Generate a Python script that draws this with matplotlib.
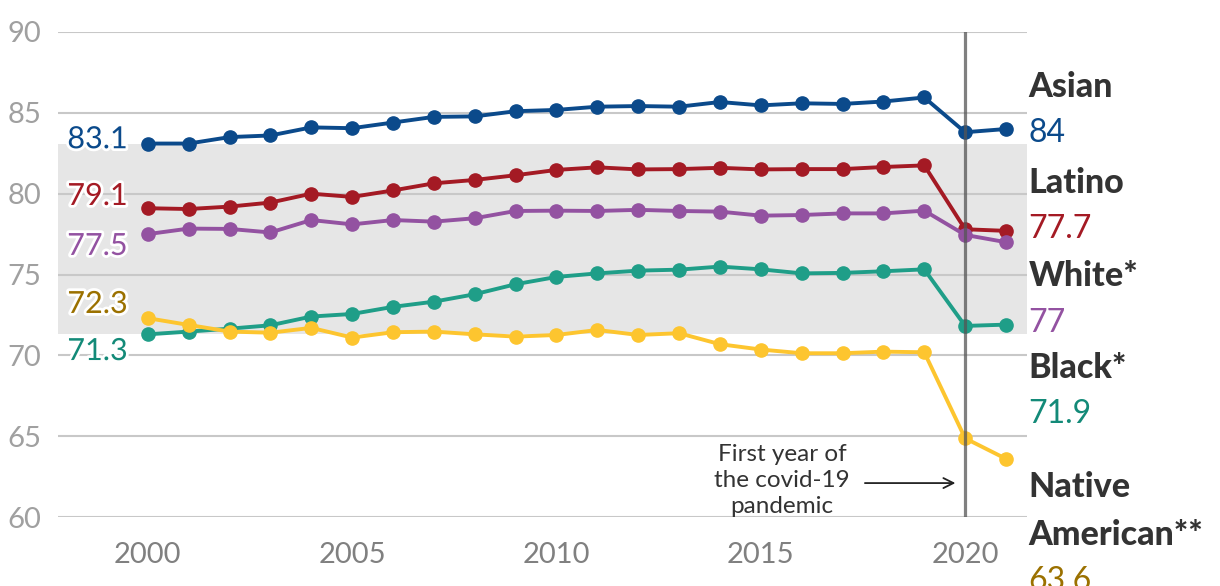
#! /usr/bin/env python3
import matplotlib
matplotlib.use("Agg")
import matplotlib.pyplot as plt
import matplotlib.patheffects as pe

years = list(range(2000, 2022))

asian = [83.1, 83.1, 83.5, 83.6, 84.1, 84.05, 84.4, 84.75, 84.78, 85.1, 85.18, 85.38,
         85.42, 85.38, 85.67, 85.46, 85.59, 85.55, 85.7, 85.95, 83.8, 84.0]
latino = [79.1, 79.05, 79.2, 79.45, 80.0, 79.8, 80.2, 80.64, 80.85, 81.14, 81.47, 81.63,
          81.5, 81.52, 81.6, 81.5, 81.52, 81.52, 81.65, 81.75, 77.8, 77.7]
white = [77.5, 77.84, 77.82, 77.6, 78.37, 78.1, 78.37, 78.27, 78.48, 78.93, 78.95, 78.93,
         79.0, 78.93, 78.89, 78.64, 78.68, 78.78, 78.78, 78.95, 77.45, 77.0]
black = [71.3, 71.47, 71.65, 71.86, 72.4, 72.56, 73.0, 73.32, 73.78, 74.4, 74.85, 75.07,
         75.24, 75.3, 75.49, 75.32, 75.07, 75.1, 75.2, 75.32, 71.82, 71.9]
native = [72.3, 71.88, 71.47, 71.4, 71.7, 71.1, 71.43, 71.47, 71.3, 71.16, 71.26, 71.57,
          71.26, 71.37, 70.69, 70.36, 70.13, 70.13, 70.23, 70.19, 64.87, 63.6]

group_names = ["Asian", "Latino", "White*", "Black*", "Native\nAmerican**"]
group_series = [asian, latino, white, black, native]
line_colors = ["#0b4a8b", "#a41a24", "#9352a1", "#1f9e88", "#fdc52f"]
text_colors = ["#0b4a8b", "#a41a24", "#9352a1", "#138a78", "#9b7100"]

left_label_y = [82.81, 79.3, 76.21, 69.71, 72.62]
right_name_y = [86.0, 80.06, 74.29, 68.58, 58.27]
right_value_y = [83.21, 77.24, 71.46, 65.8, 55.5]

pandemic_year = 2020
FONT = "Lato"


def draw_lines(ax):
    # grey band between the lowest and highest 2000 value
    start_vals = [s[0] for s in group_series]
    ax.axhspan(min(start_vals), max(start_vals), color="#e6e6e6", zorder=0, lw=0)

    for vals, c in zip(group_series, line_colors):
        ax.plot(years, vals, color=c, lw=2.8, marker="o", markersize=9.5,
                zorder=3, clip_on=False)

    ax.axvline(pandemic_year, color="#555555", alpha=0.75, lw=2.3, zorder=4)


def draw_labels(ax):
    stroke = [pe.withStroke(linewidth=4, foreground="white")]
    for vals, c, y in zip(group_series, text_colors, left_label_y):
        ax.text(years[0] - 0.49, y, f"{vals[0]:g}", color=c, fontsize=22, family=FONT,
                ha="right", va="baseline", path_effects=stroke, zorder=5)

    x_right = years[-1] + 0.55
    for name, vals, c, yn, yv in zip(group_names, group_series, text_colors,
                                      right_name_y, right_value_y):
        ax.text(x_right, yn, name, color="#333333", fontsize=24.5, family=FONT,
                fontweight="black", ha="left", va="baseline", clip_on=False,
                linespacing=1.6)
        ax.text(x_right, yv, f"{vals[-1]:g}", color=c, fontsize=23, family=FONT,
                ha="left", va="baseline", clip_on=False)

    ax.text(2015.52, 62.25, "First year of\nthe covid-19\npandemic", fontsize=17.5,
            family=FONT, color="#333333", ha="center", va="center", linespacing=1.3,
            zorder=5)
    ax.annotate("", xy=(2019.83, 62.1), xytext=(2017.48, 62.1),
                arrowprops=dict(arrowstyle="->", color="#222222", lw=1.3,
                                mutation_scale=18), zorder=5)


def main():
    fig = plt.figure(figsize=(12.2, 5.86), dpi=100)
    ax = fig.add_axes([0.0475, 0.1177, 0.7945, 0.8277])

    draw_lines(ax)
    draw_labels(ax)

    ax.set_xlim(1997.8, 2021.52)
    ax.set_ylim(60, 90)
    ax.set_yticks([60, 65, 70, 75, 80, 85, 90])
    ax.set_xticks([2000, 2005, 2010, 2015, 2020])
    ax.grid(axis="y", color="#c8c8c8", lw=1.5, zorder=1)
    ax.set_axisbelow(False)
    for s in ax.spines.values():
        s.set_visible(False)
    ax.tick_params(axis="both", length=0)
    ax.tick_params(axis="y", pad=12, labelcolor="#a0a0a0", labelsize=21)
    ax.tick_params(axis="x", pad=18, labelcolor="#808080", labelsize=21)
    for lab in ax.get_xticklabels() + ax.get_yticklabels():
        lab.set_family(FONT)

    fig.savefig("out.png", dpi=100)


if __name__ == "__main__":
    main()
